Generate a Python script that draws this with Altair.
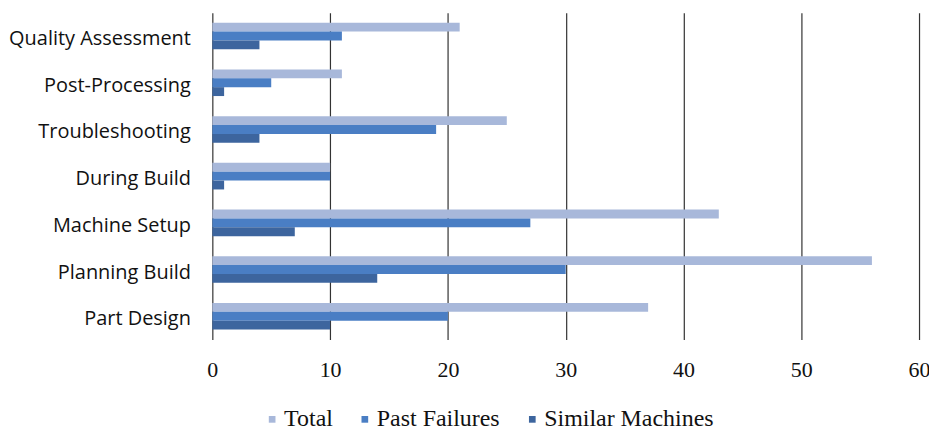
import altair as alt
import pandas as pd

categories = ["Quality Assessment", "Post-Processing", "Troubleshooting", "During Build",
              "Machine Setup", "Planning Build", "Part Design"]
series = ["Total", "Past Failures", "Similar Machines"]
total = [21, 11, 25, 10, 43, 56, 37]
past_failures = [11, 5, 19, 10, 27, 30, 20]
similar_machines = [4, 1, 4, 1, 7, 14, 10]
colors = ["#A8B8DA", "#4A7EC4", "#3D659E"]

rows = []
for i, c in enumerate(categories):
    for s, vals in zip(series, [total, past_failures, similar_machines]):
        rows.append({"category": c, "series": s, "value": vals[i]})
df = pd.DataFrame(rows)

chart = alt.Chart(df).mark_bar().encode(
    y=alt.Y("category:N", sort=categories, title=None,
            scale=alt.Scale(paddingInner=0.43, paddingOuter=0.215),
            axis=alt.Axis(ticks=False, domain=False, labelFont="Open Sans", labelFontSize=20,
                          labelColor="#111111", labelPadding=22, grid=False, labelLimit=0,
                          labelOffset=3)),
    yOffset=alt.YOffset("series:N", sort=series, scale=alt.Scale(paddingInner=0, paddingOuter=0)),
    x=alt.X("value:Q", title=None,
            scale=alt.Scale(domain=[0, 60], nice=False),
            axis=alt.Axis(values=[0, 10, 20, 30, 40, 50, 60], ticks=False, tickSize=0, domain=False,
                          grid=True, gridColor="#333333", gridWidth=1.2, gridOpacity=1,
                          labelFont="Liberation Serif", labelFontSize=22, labelColor="#111111",
                          labelPadding=20, labelLimit=0, labelFlush=False)),
    color=alt.Color("series:N", sort=series,
                    scale=alt.Scale(domain=series, range=colors),
                    legend=alt.Legend(title=None, orient="none", direction="horizontal",
                                      legendX=48, legendY=396, symbolType="square", symbolSize=45,
                                      symbolStrokeWidth=0, labelFont="Liberation Serif",
                                      labelFontSize=24, labelColor="#111111", labelOffset=0,
                                      columnPadding=20, padding=0, labelLimit=0)),
).properties(
    width=709, height=328,
    autosize=alt.AutoSizeParams(type="none"),
    padding={"left": 205, "top": 4, "right": 10, "bottom": 95},
).configure_view(stroke=None)

chart.save("out.html", embed_options={"renderer": "svg", "actions": False})
